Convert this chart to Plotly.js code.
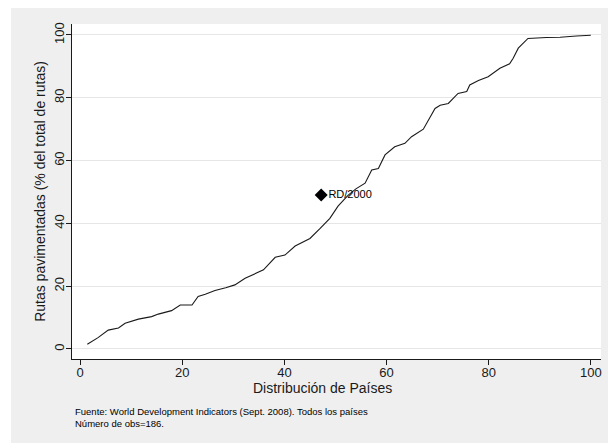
<!DOCTYPE html>
<html>
<head>
<meta charset="utf-8">
<script src="https://cdn.plot.ly/plotly-3.0.1.min.js"></script>
<style>
html,body{margin:0;padding:0;background:#ffffff;}
#chart{position:absolute;left:11px;top:8px;width:597px;height:435px;}
</style>
</head>
<body>
<div id="chart"></div>
<script>
// Cumulative distribution of countries (x: % of countries, y: paved roads % of total)
var distX = [1.4, 3.5, 5.5, 7.5, 8.8, 11.4, 14, 15.3, 17.9, 19.6, 21.9, 23.1, 24.5, 26.4, 28.5, 30.3, 32.3, 34.2, 35.9, 38.2, 40.1, 42.1, 45, 47, 47.9, 48.9, 50.5, 52.5, 54, 55.8, 57.1, 58.4, 59.7, 61.6, 63.6, 64.9, 67.2, 68.2, 69.5, 70.5, 72.1, 74, 75.7, 76.3, 78, 79.9, 82.2, 84.1, 84.8, 85.8, 87.7, 91.3, 94, 97.2, 100];
var pavedY = [1.5, 3.6, 6, 6.7, 8.2, 9.5, 10.3, 11.1, 12.2, 14, 14, 16.7, 17.4, 18.6, 19.5, 20.4, 22.5, 23.8, 25.2, 29.2, 29.9, 32.8, 35.2, 38.4, 40, 41.6, 45.5, 49, 51, 52.8, 57, 57.5, 61.8, 64.4, 65.5, 67.6, 70, 72.9, 76.6, 77.6, 78.2, 81.4, 82, 84.1, 85.5, 86.7, 89.4, 90.8, 92.6, 95.8, 98.9, 99.2, 99.3, 99.7, 99.9];

var highlightX = [47.2];
var highlightY = [49];
var highlightLabel = ["RD/2000"];

var xTicks = [0, 20, 40, 60, 80, 100];
var yTicks = [0, 20, 40, 60, 80, 100];

var xTitle = 'Distribución de Países';
var yTitle = 'Rutas pavimentadas (% del total de rutas)';

var noteLines = [
  "Fuente: World Development Indicators (Sept. 2008). Todos los países",
  "Número de obs=186."
];

var traces = [
  {
    x: distX, y: pavedY, type: 'scatter', mode: 'lines',
    line: {color: '#1a1a1a', width: 1.1},
    hoverinfo: 'skip', showlegend: false
  },
  {
    x: highlightX, y: highlightY, type: 'scatter', mode: 'markers+text',
    text: highlightLabel, textposition: 'middle right',
    textfont: {family: 'Arial, Liberation Sans, sans-serif', size: 11, color: '#000000'},
    marker: {symbol: 'diamond', size: 10, color: '#000000'},
    showlegend: false
  }
];

var layout = {
  width: 597, height: 435,
  margin: {l: 61, r: 7, t: 16, b: 84},
  paper_bgcolor: '#efefef',
  plot_bgcolor: '#ffffff',
  showlegend: false,
  font: {family: 'Arial, Liberation Sans, sans-serif', color: '#1a1a1a'},
  xaxis: {
    range: [-1.6, 102],
    tickvals: xTicks,
    ticks: 'outside', ticklen: 5, tickwidth: 1, tickcolor: '#1a1a1a',
    ticklabelstandoff: -4,
    showline: true, linecolor: '#1a1a1a', linewidth: 1.2,
    showgrid: false, zeroline: false,
    tickfont: {size: 13, color: '#1a1a1a'}
  },
  yaxis: {
    range: [-3.2, 103.5],
    tickvals: yTicks,
    tickangle: -90,
    ticks: 'outside', ticklen: 5, tickwidth: 1, tickcolor: '#1a1a1a',
    ticklabelstandoff: -3,
    showline: true, linecolor: '#1a1a1a', linewidth: 1.2,
    showgrid: true, gridcolor: '#e6e6e6', gridwidth: 1,
    zeroline: false,
    tickfont: {size: 13, color: '#1a1a1a'},
    title: {text: yTitle, font: {size: 14, color: '#1a1a1a'}, standoff: 2}
  },
  annotations: [
    {
      xref: 'paper', yref: 'paper', x: 0.474, y: -0.088,
      xanchor: 'center', yanchor: 'middle', showarrow: false,
      text: xTitle,
      font: {size: 14, color: '#1a1a1a', family: 'Arial, Liberation Sans, sans-serif'}
    },
    {
      xref: 'paper', yref: 'paper', x: 0.002, y: -0.134,
      xanchor: 'left', yanchor: 'top', align: 'left', showarrow: false,
      text: noteLines.join('<br>'),
      font: {size: 9.5, color: '#000000', family: 'Arial, Liberation Sans, sans-serif'}
    }
  ]
};

Plotly.newPlot('chart', traces, layout, {staticPlot: true, displayModeBar: false});
</script>
</body>
</html>
